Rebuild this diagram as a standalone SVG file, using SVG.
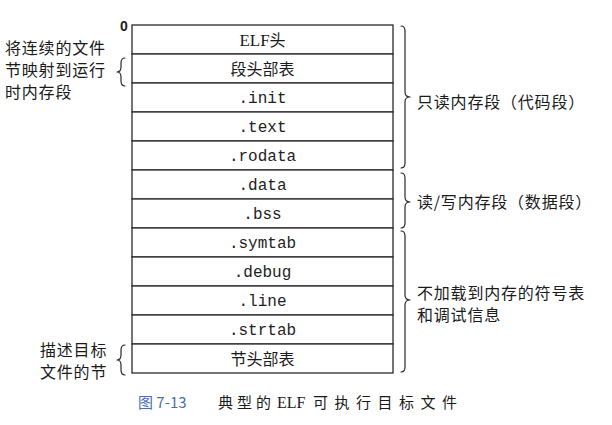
<svg xmlns="http://www.w3.org/2000/svg" width="612" height="425" viewBox="0 0 612 425">
  <style>
    .cell { fill: #ffffff; stroke: #2a2a2a; stroke-width: 1.3; }
    .mono { font-family: "Liberation Mono", "DejaVu Sans Mono", monospace; font-size: 16px; fill: #222; text-anchor: middle; }
    .cjk { font-family: "Noto Sans CJK SC", sans-serif; font-size: 16px; fill: #1a1a1a; }
    .note { font-family: "Noto Sans CJK SC", sans-serif; font-size: 16px; fill: #1a1a1a; letter-spacing: 0.8px; }
    .mid { text-anchor: middle; }
    .brace { fill: none; stroke: #2a2a2a; stroke-width: 1.2; stroke-linecap: round; stroke-linejoin: round; }
    .cap { font-family: "Noto Sans CJK SC", sans-serif; font-size: 15px; fill: #1a1a1a; }
    .capnum { font-family: "Noto Sans CJK SC", sans-serif; font-size: 15px; fill: #4a6fa8; }
  </style>
  <rect width="612" height="425" fill="#ffffff"/>

  <!-- offset label -->
  <text x="120" y="31" font-family="Liberation Sans, sans-serif" font-size="14" font-weight="bold" fill="#222">0</text>

  <!-- ELF sections, one row each (29px pitch from y=25) -->
  <g id="elf-header"><rect class="cell" x="132" y="25" width="261" height="29"/><text class="cjk mid" x="262.5" y="45.5"><tspan style="font-family:'Liberation Serif',serif;font-size:17px">ELF</tspan>头</text></g>
  <g id="segment-header-table"><rect class="cell" x="132" y="54" width="261" height="29"/><text class="cjk mid" x="262.5" y="74.5">段头部表</text></g>
  <g id="sec-init"><rect class="cell" x="132" y="83" width="261" height="29"/><text class="mono" x="262.5" y="102.5">.init</text></g>
  <g id="sec-text"><rect class="cell" x="132" y="112" width="261" height="29"/><text class="mono" x="262.5" y="131.5">.text</text></g>
  <g id="sec-rodata"><rect class="cell" x="132" y="141" width="261" height="29"/><text class="mono" x="262.5" y="160.5">.rodata</text></g>
  <g id="sec-data"><rect class="cell" x="132" y="170" width="261" height="29"/><text class="mono" x="262.5" y="189.5">.data</text></g>
  <g id="sec-bss"><rect class="cell" x="132" y="199" width="261" height="29"/><text class="mono" x="262.5" y="218.5">.bss</text></g>
  <g id="sec-symtab"><rect class="cell" x="132" y="228" width="261" height="29"/><text class="mono" x="262.5" y="247.5">.symtab</text></g>
  <g id="sec-debug"><rect class="cell" x="132" y="257" width="261" height="29"/><text class="mono" x="262.5" y="276.5">.debug</text></g>
  <g id="sec-line"><rect class="cell" x="132" y="286" width="261" height="29"/><text class="mono" x="262.5" y="305.5">.line</text></g>
  <g id="sec-strtab"><rect class="cell" x="132" y="315" width="261" height="29"/><text class="mono" x="262.5" y="335">.strtab</text></g>
  <g id="section-header-table"><rect class="cell" x="132" y="344" width="261" height="29"/><text class="cjk mid" x="262.5" y="364.5">节头部表</text></g>

  <!-- braces -->
  <g id="connectors">
    <path class="brace" d="M401,26 Q405,26 405,31 L405,92 Q405,97 410,97 Q405,97 405,102 L405,163 Q405,168 401,168"/>
    <path class="brace" d="M401,173 Q405,173 405,178 L405,197 Q405,202 410,202 Q405,202 405,207 L405,223 Q405,228 401,228"/>
    <path class="brace" d="M401,231 Q405,231 405,236 L405,295 Q405,300 410,300 Q405,300 405,305 L405,367 Q405,372 401,372"/>
    <path class="brace" d="M125,58 Q121,58 121,63 L121,67 Q121,72 117,72 Q121,72 121,77 L121,81 Q121,86 125,86"/>
    <path class="brace" d="M125,345 Q121,345 121,350 L121,355 Q121,360 117,360 Q121,360 121,365 L121,370 Q121,375 125,375"/>
  </g>

  <!-- annotations -->
  <g id="note-mapped">
    <text class="note" x="5" y="54">将连续的文件<tspan x="5" y="76">节映射到运行</tspan><tspan x="5" y="98">时内存段</tspan></text>
  </g>
  <g id="note-describe">
    <text class="note" x="40" y="356">描述目标<tspan x="40" y="378">文件的节</tspan></text>
  </g>
  <g id="note-readonly"><text class="note" x="417" y="108">只读内存段（代码段）</text></g>
  <g id="note-readwrite"><text class="note" x="417" y="208">读/写内存段（数据段）</text></g>
  <g id="note-notloaded">
    <text class="note" x="417" y="299">不加载到内存的符号表<tspan x="417" y="321">和调试信息</tspan></text>
  </g>

  <!-- caption -->
  <g id="caption">
    <text class="capnum" x="138" y="408">图 7-13</text>
    <text class="cap" x="218" y="408" letter-spacing="4">典型的</text>
    <text x="277" y="408" style="font-family:'Liberation Serif',serif;font-size:16px;fill:#1a1a1a">ELF</text>
    <text class="cap" x="313" y="408" letter-spacing="6.5">可执行目标文件</text>
  </g>
</svg>
